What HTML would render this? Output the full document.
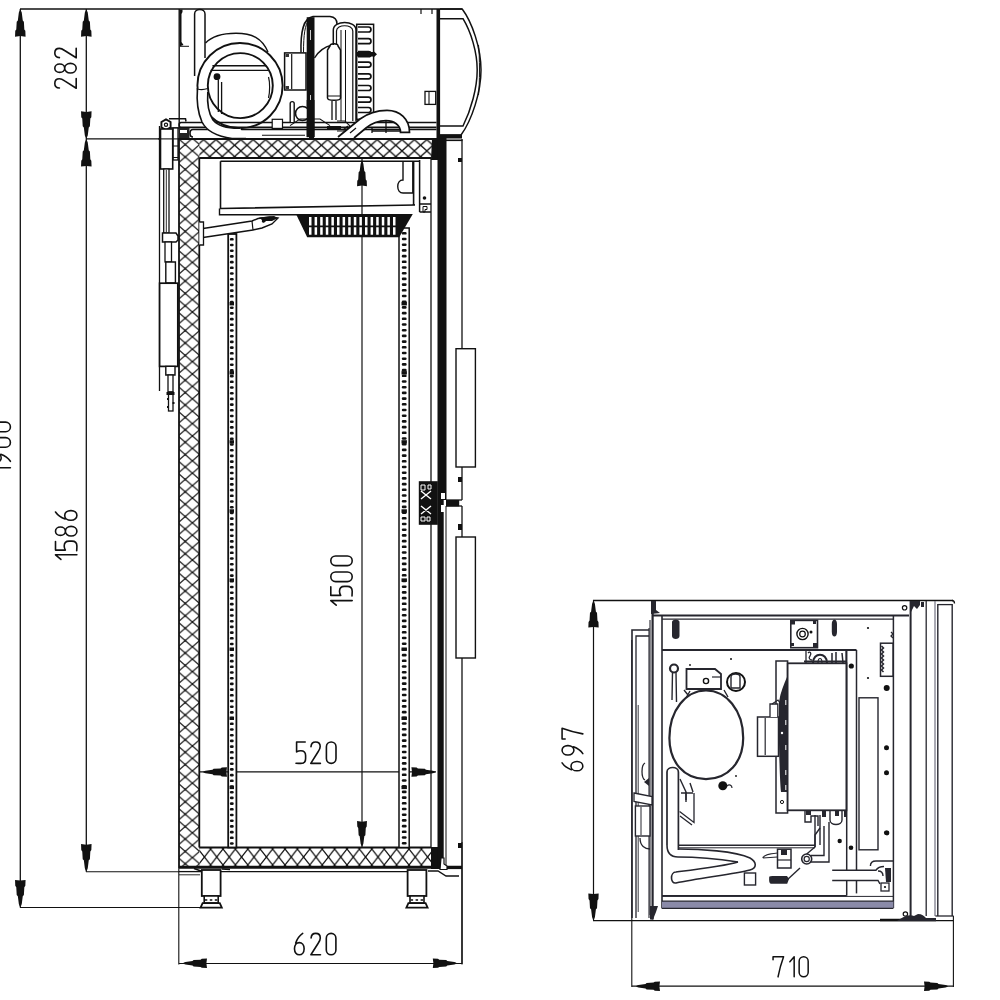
<!DOCTYPE html>
<html><head><meta charset="utf-8"><style>
html,body{margin:0;padding:0;background:#fff;}
body{width:1000px;height:1000px;overflow:hidden;font-family:"Liberation Sans",sans-serif;}
svg{display:block;}
</style></head><body>
<svg width="1000" height="1000" viewBox="0 0 1000 1000">
<defs>
<pattern id="hv" patternUnits="userSpaceOnUse" x="178" y="2" width="14.4" height="12.4">
<path d="M0,0 L14.4,12.4 M14.4,0 L0,12.4" stroke="#111" stroke-width="1.25" fill="none"/>
<circle cx="7.2" cy="6.2" r="0.95" fill="#111"/><circle cx="0" cy="0" r="0.95" fill="#111"/><circle cx="14.4" cy="0" r="0.95" fill="#111"/><circle cx="0" cy="12.4" r="0.95" fill="#111"/><circle cx="14.4" cy="12.4" r="0.95" fill="#111"/>
</pattern>
<pattern id="hh" patternUnits="userSpaceOnUse" x="198.2" y="849" width="12.4" height="16">
<path d="M0,0 L12.4,16 M12.4,0 L0,16" stroke="#111" stroke-width="1.25" fill="none"/>
<circle cx="6.2" cy="8" r="0.95" fill="#111"/><circle cx="0" cy="0" r="0.95" fill="#111"/><circle cx="12.4" cy="0" r="0.95" fill="#111"/><circle cx="0" cy="16" r="0.95" fill="#111"/><circle cx="12.4" cy="16" r="0.95" fill="#111"/>
</pattern>
<pattern id="hht" patternUnits="userSpaceOnUse" x="203.6" y="139.6" width="12.4" height="11.3">
<path d="M0,0 L12.4,11.3 M12.4,0 L0,11.3" stroke="#111" stroke-width="1.25" fill="none"/>
<circle cx="6.2" cy="5.65" r="0.95" fill="#111"/><circle cx="0" cy="0" r="0.95" fill="#111"/><circle cx="12.4" cy="0" r="0.95" fill="#111"/><circle cx="0" cy="11.3" r="0.95" fill="#111"/><circle cx="12.4" cy="11.3" r="0.95" fill="#111"/>
</pattern>
</defs>
<rect width="1000" height="1000" fill="#fff"/>

<line x1="20" y1="9" x2="462" y2="9" stroke="#111" stroke-width="1.3" />
<line x1="20.3" y1="9" x2="20.3" y2="907.5" stroke="#111" stroke-width="1.3" />
<path transform="translate(20.3,9.8) rotate(0) scale(1.12)" d="M0,0 L0.7,1 L1.3,2.5 L2.2,9.5 L3.2,10.6 L3.6,17.5 L4.5,18.8 L4.7,24 L0,23.4 L-4.7,24 L-4.5,18.8 L-3.6,17.5 L-3.2,10.6 L-2.2,9.5 L-1.3,2.5 L-0.7,1 Z" fill="#111"/>
<path transform="translate(20.3,906.8) rotate(180) scale(1.12)" d="M0,0 L0.7,1 L1.3,2.5 L2.2,9.5 L3.2,10.6 L3.6,17.5 L4.5,18.8 L4.7,24 L0,23.4 L-4.7,24 L-4.5,18.8 L-3.6,17.5 L-3.2,10.6 L-2.2,9.5 L-1.3,2.5 L-0.7,1 Z" fill="#111"/>
<g transform="translate(-11.8,473.1) rotate(-90) scale(1.0)" fill="none" stroke="#111" stroke-width="1.6" stroke-linecap="round" stroke-linejoin="round"><path transform="translate(0.8,0.8)" d="M0,5.4 L4.6,0 V21.4"/><path transform="translate(10.4,0.8)" d="M1.4,21.4 C4.6,19.2 7,15.8 8.4,11.8 M9.6,6.2 C9.6,9.6 7.5,12.2 4.8,12.2 C2.1,12.2 0,9.6 0,6.2 V5.8 C0,2.5 2.1,0 4.8,0 C7.5,0 9.6,2.5 9.6,5.8 Z"/><path transform="translate(25.900000000000002,0.8)" d="M0,4.8 A4.8,4.8 0 0 1 9.6,4.8 V16.6 A4.8,4.8 0 0 1 0,16.6 Z"/><path transform="translate(41.4,0.8)" d="M0,4.8 A4.8,4.8 0 0 1 9.6,4.8 V16.6 A4.8,4.8 0 0 1 0,16.6 Z"/></g>
<line x1="86.3" y1="9" x2="86.3" y2="871.8" stroke="#111" stroke-width="1.3" />
<path transform="translate(86.3,9.8) rotate(0) scale(1.12)" d="M0,0 L0.7,1 L1.3,2.5 L2.2,9.5 L3.2,10.6 L3.6,17.5 L4.5,18.8 L4.7,24 L0,23.4 L-4.7,24 L-4.5,18.8 L-3.6,17.5 L-3.2,10.6 L-2.2,9.5 L-1.3,2.5 L-0.7,1 Z" fill="#111"/>
<path transform="translate(86.3,138.2) rotate(180) scale(1.12)" d="M0,0 L0.7,1 L1.3,2.5 L2.2,9.5 L3.2,10.6 L3.6,17.5 L4.5,18.8 L4.7,24 L0,23.4 L-4.7,24 L-4.5,18.8 L-3.6,17.5 L-3.2,10.6 L-2.2,9.5 L-1.3,2.5 L-0.7,1 Z" fill="#111"/>
<path transform="translate(86.3,139.7) rotate(0) scale(1.12)" d="M0,0 L0.7,1 L1.3,2.5 L2.2,9.5 L3.2,10.6 L3.6,17.5 L4.5,18.8 L4.7,24 L0,23.4 L-4.7,24 L-4.5,18.8 L-3.6,17.5 L-3.2,10.6 L-2.2,9.5 L-1.3,2.5 L-0.7,1 Z" fill="#111"/>
<path transform="translate(86.3,871) rotate(180) scale(1.12)" d="M0,0 L0.7,1 L1.3,2.5 L2.2,9.5 L3.2,10.6 L3.6,17.5 L4.5,18.8 L4.7,24 L0,23.4 L-4.7,24 L-4.5,18.8 L-3.6,17.5 L-3.2,10.6 L-2.2,9.5 L-1.3,2.5 L-0.7,1 Z" fill="#111"/>
<line x1="86" y1="138.9" x2="179" y2="138.9" stroke="#111" stroke-width="1.1" />
<line x1="86" y1="871.8" x2="179" y2="871.8" stroke="#111" stroke-width="1.1" />
<line x1="20" y1="907.5" x2="200" y2="907.5" stroke="#111" stroke-width="1.1" />
<g transform="translate(54,89) rotate(-90) scale(1.0)" fill="none" stroke="#111" stroke-width="1.6" stroke-linecap="round" stroke-linejoin="round"><path transform="translate(0.8,0.8)" d="M0.2,4.6 C0.4,1.7 2.3,0 4.8,0 C7.5,0 9.4,1.9 9.4,4.6 C9.4,6.6 8.5,8.1 7.3,9.8 L0,21.4 H9.6"/><path transform="translate(16.0,0.8)" d="M4.8,0 C2.5,0 0.6,1.9 0.6,4.9 C0.6,7.9 2.5,9.9 4.8,9.9 C7.1,9.9 9,7.9 9,4.9 C9,1.9 7.1,0 4.8,0 Z M4.8,9.9 C2.1,9.9 0,12.2 0,15.6 C0,19 2.1,21.4 4.8,21.4 C7.5,21.4 9.6,19 9.6,15.6 C9.6,12.2 7.5,9.9 4.8,9.9 Z"/><path transform="translate(31.2,0.8)" d="M0.2,4.6 C0.4,1.7 2.3,0 4.8,0 C7.5,0 9.4,1.9 9.4,4.6 C9.4,6.6 8.5,8.1 7.3,9.8 L0,21.4 H9.6"/></g>
<g transform="translate(54.7,560.2) rotate(-90) scale(1.0)" fill="none" stroke="#111" stroke-width="1.6" stroke-linecap="round" stroke-linejoin="round"><path transform="translate(0.8,0.8)" d="M0,5.4 L4.6,0 V21.4"/><path transform="translate(9.5,0.8)" d="M9.2,0 H0.6 V9.9 C1.8,9.1 3.2,8.7 4.8,8.7 C7.7,8.7 9.6,10.7 9.6,13.6 V16.4 C9.6,19.4 7.7,21.4 4.8,21.4 C3,21.4 1.4,21.3 0,21.2"/><path transform="translate(24.2,0.8)" d="M4.8,0 C2.5,0 0.6,1.9 0.6,4.9 C0.6,7.9 2.5,9.9 4.8,9.9 C7.1,9.9 9,7.9 9,4.9 C9,1.9 7.1,0 4.8,0 Z M4.8,9.9 C2.1,9.9 0,12.2 0,15.6 C0,19 2.1,21.4 4.8,21.4 C7.5,21.4 9.6,19 9.6,15.6 C9.6,12.2 7.5,9.9 4.8,9.9 Z"/><path transform="translate(40.0,0.8)" d="M8.2,0 C5,2.2 2.6,5.6 1.2,9.6 M0,15.2 C0,11.8 2.1,9.2 4.8,9.2 C7.5,9.2 9.6,11.8 9.6,15.2 V15.6 C9.6,18.9 7.5,21.4 4.8,21.4 C2.1,21.4 0,18.9 0,15.6 Z"/></g>
<line x1="178.8" y1="868" x2="178.8" y2="964.5" stroke="#111" stroke-width="1.1" />
<line x1="462" y1="842" x2="462" y2="964.5" stroke="#111" stroke-width="1.1" />
<line x1="179" y1="963.5" x2="462" y2="963.5" stroke="#111" stroke-width="1.2" />
<path transform="translate(183,963.3) rotate(-90) scale(1.0)" d="M0,0 L0.7,1 L1.3,2.5 L2.2,9.5 L3.2,10.6 L3.6,17.5 L4.5,18.8 L4.7,24 L0,23.4 L-4.7,24 L-4.5,18.8 L-3.6,17.5 L-3.2,10.6 L-2.2,9.5 L-1.3,2.5 L-0.7,1 Z" fill="#111"/>
<path transform="translate(456.8,963.3) rotate(90) scale(1.0)" d="M0,0 L0.7,1 L1.3,2.5 L2.2,9.5 L3.2,10.6 L3.6,17.5 L4.5,18.8 L4.7,24 L0,23.4 L-4.7,24 L-4.5,18.8 L-3.6,17.5 L-3.2,10.6 L-2.2,9.5 L-1.3,2.5 L-0.7,1 Z" fill="#111"/>
<g transform="translate(293.7,932.6) scale(1.0)" fill="none" stroke="#111" stroke-width="1.6" stroke-linecap="round" stroke-linejoin="round"><path transform="translate(0.8,0.8)" d="M8.2,0 C5,2.2 2.6,5.6 1.2,9.6 M0,15.2 C0,11.8 2.1,9.2 4.8,9.2 C7.5,9.2 9.6,11.8 9.6,15.2 V15.6 C9.6,18.9 7.5,21.4 4.8,21.4 C2.1,21.4 0,18.9 0,15.6 Z"/><path transform="translate(17.2,0.8)" d="M0.2,4.6 C0.4,1.7 2.3,0 4.8,0 C7.5,0 9.4,1.9 9.4,4.6 C9.4,6.6 8.5,8.1 7.3,9.8 L0,21.4 H9.6"/><path transform="translate(32.6,0.8)" d="M0,4.8 A4.8,4.8 0 0 1 9.6,4.8 V16.6 A4.8,4.8 0 0 1 0,16.6 Z"/></g>
<line x1="200" y1="771.8" x2="436" y2="771.8" stroke="#111" stroke-width="1.2" />
<path transform="translate(203,772) rotate(-90) scale(1.0)" d="M0,0 L0.7,1 L1.3,2.5 L2.2,9.5 L3.2,10.6 L3.6,17.5 L4.5,18.8 L4.7,24 L0,23.4 L-4.7,24 L-4.5,18.8 L-3.6,17.5 L-3.2,10.6 L-2.2,9.5 L-1.3,2.5 L-0.7,1 Z" fill="#111"/>
<path transform="translate(435.4,772) rotate(90) scale(1.0)" d="M0,0 L0.7,1 L1.3,2.5 L2.2,9.5 L3.2,10.6 L3.6,17.5 L4.5,18.8 L4.7,24 L0,23.4 L-4.7,24 L-4.5,18.8 L-3.6,17.5 L-3.2,10.6 L-2.2,9.5 L-1.3,2.5 L-0.7,1 Z" fill="#111"/>
<g transform="translate(295.2,741.2) scale(1.0)" fill="none" stroke="#111" stroke-width="1.6" stroke-linecap="round" stroke-linejoin="round"><path transform="translate(0.8,0.8)" d="M9.2,0 H0.6 V9.9 C1.8,9.1 3.2,8.7 4.8,8.7 C7.7,8.7 9.6,10.7 9.6,13.6 V16.4 C9.6,19.4 7.7,21.4 4.8,21.4 C3,21.4 1.4,21.3 0,21.2"/><path transform="translate(15.600000000000001,0.8)" d="M0.2,4.6 C0.4,1.7 2.3,0 4.8,0 C7.5,0 9.4,1.9 9.4,4.6 C9.4,6.6 8.5,8.1 7.3,9.8 L0,21.4 H9.6"/><path transform="translate(31.2,0.8)" d="M0,4.8 A4.8,4.8 0 0 1 9.6,4.8 V16.6 A4.8,4.8 0 0 1 0,16.6 Z"/></g>
<line x1="362" y1="159" x2="362" y2="847" stroke="#111" stroke-width="1.2" />
<path transform="translate(362,161) rotate(0) scale(1.05)" d="M0,0 L0.7,1 L1.3,2.5 L2.2,9.5 L3.2,10.6 L3.6,17.5 L4.5,18.8 L4.7,24 L0,23.4 L-4.7,24 L-4.5,18.8 L-3.6,17.5 L-3.2,10.6 L-2.2,9.5 L-1.3,2.5 L-0.7,1 Z" fill="#111"/>
<path transform="translate(362,846.3) rotate(180) scale(1.05)" d="M0,0 L0.7,1 L1.3,2.5 L2.2,9.5 L3.2,10.6 L3.6,17.5 L4.5,18.8 L4.7,24 L0,23.4 L-4.7,24 L-4.5,18.8 L-3.6,17.5 L-3.2,10.6 L-2.2,9.5 L-1.3,2.5 L-0.7,1 Z" fill="#111"/>
<g transform="translate(330,606) rotate(-90) scale(1.0)" fill="none" stroke="#111" stroke-width="1.6" stroke-linecap="round" stroke-linejoin="round"><path transform="translate(0.8,0.8)" d="M0,5.4 L4.6,0 V21.4"/><path transform="translate(10.0,0.8)" d="M9.2,0 H0.6 V9.9 C1.8,9.1 3.2,8.7 4.8,8.7 C7.7,8.7 9.6,10.7 9.6,13.6 V16.4 C9.6,19.4 7.7,21.4 4.8,21.4 C3,21.4 1.4,21.3 0,21.2"/><path transform="translate(24.400000000000002,0.8)" d="M0,4.8 A4.8,4.8 0 0 1 9.6,4.8 V16.6 A4.8,4.8 0 0 1 0,16.6 Z"/><path transform="translate(40.4,0.8)" d="M0,4.8 A4.8,4.8 0 0 1 9.6,4.8 V16.6 A4.8,4.8 0 0 1 0,16.6 Z"/></g>
<rect x="179" y="139" width="20.3" height="728" fill="url(#hv)"/>
<rect x="199.3" y="139.5" width="233" height="18.5" fill="url(#hht)"/>
<rect x="199.3" y="847.5" width="233" height="19" fill="url(#hh)"/>
<line x1="179" y1="138" x2="179" y2="868" stroke="#111" stroke-width="1.8" />
<line x1="199.3" y1="158" x2="199.3" y2="847.5" stroke="#111" stroke-width="1.8" />
<line x1="179" y1="139" x2="438" y2="139" stroke="#111" stroke-width="1.8" />
<line x1="199.3" y1="158" x2="431" y2="158" stroke="#111" stroke-width="1.8" />
<line x1="199.3" y1="847.5" x2="431" y2="847.5" stroke="#111" stroke-width="1.8" />
<line x1="179" y1="867.2" x2="462" y2="867.2" stroke="#111" stroke-width="3" />
<path d="M432,139 L438,139 L438,160 L431,160 Z" stroke="#111" stroke-width="0" fill="#111" />
<path d="M431,847 L441,847 L441,869 L431,869 Z" stroke="#111" stroke-width="0" fill="#111" />
<line x1="431" y1="158" x2="431" y2="847.5" stroke="#111" stroke-width="1.3" />
<rect x="436.5" y="9" width="3.6" height="130" fill="#111"/>
<rect x="437.5" y="137" width="9" height="363" fill="#111"/>
<rect x="437.5" y="500" width="6.2" height="369" fill="#111"/>
<line x1="446" y1="506" x2="446" y2="866" stroke="#222" stroke-width="1.1" />
<line x1="462" y1="139" x2="462" y2="348.7" stroke="#111" stroke-width="1.3" />
<line x1="462" y1="467" x2="462" y2="500" stroke="#111" stroke-width="1.3" />
<line x1="446" y1="500" x2="462" y2="500" stroke="#111" stroke-width="1.3" />
<line x1="446" y1="506" x2="462" y2="506" stroke="#111" stroke-width="1.3" />
<line x1="462" y1="506" x2="462" y2="537" stroke="#111" stroke-width="1.3" />
<line x1="462" y1="658" x2="462" y2="964" stroke="#111" stroke-width="1.3" />
<line x1="446" y1="140.3" x2="462.5" y2="140.3" stroke="#111" stroke-width="1.6" />
<rect x="456" y="348.7" width="19.4" height="118.3" stroke="#111" stroke-width="1.4" fill="#fff" />
<rect x="456" y="537" width="19.4" height="121" stroke="#111" stroke-width="1.4" fill="#fff" />
<line x1="446" y1="867.6" x2="462" y2="867.6" stroke="#111" stroke-width="3" />
<rect x="418.8" y="481.2" width="19" height="43.6" stroke="#111" stroke-width="0" fill="#111" />
<path d="M421,491 L431,499 M431,491 L421,499 M421,506 L431,514 M431,506 L421,514" stroke="#fff" stroke-width="1.4" fill="none" />
<path d="M421,485 h4 v5 h-4 Z M428,485 h3 v4 h-3 Z M421,517 h4 v4 h-4 Z M427,517 h3 v4 h-3 Z" stroke="#fff" stroke-width="1.0" fill="none" />
<path d="M441,493 h4 v6 h-4 Z M441,505 h4 v7 h-4 Z" stroke="#111" stroke-width="0" fill="#fff" />
<rect x="446" y="500" width="13.2" height="6.4" stroke="#111" stroke-width="0" fill="#111" />
<path d="M458,477 h4 v5 h-4 Z M458,524 h4 v6 h-4 Z M458,158 h4 v4 h-4 Z" stroke="#111" stroke-width="0" fill="#111" />
<rect x="228.2" y="234" width="8.200000000000017" height="613.5" stroke="#111" stroke-width="1.8" fill="#fff" />
<g fill="#111"><rect x="229.9" y="238.0" width="3.8" height="2.6" rx="1.2" /><rect x="229.9" y="243.7" width="3.8" height="2.6" rx="1.2" /><rect x="229.9" y="249.4" width="3.8" height="2.6" rx="1.2" /><rect x="229.9" y="255.1" width="3.8" height="2.6" rx="1.2" /><rect x="229.9" y="260.8" width="3.8" height="2.6" rx="1.2" /><rect x="229.9" y="266.5" width="3.8" height="2.6" rx="1.2" /><rect x="229.9" y="272.2" width="3.8" height="2.6" rx="1.2" /><rect x="229.9" y="277.9" width="3.8" height="2.6" rx="1.2" /><rect x="229.9" y="283.6" width="3.8" height="2.6" rx="1.2" /><rect x="229.9" y="289.3" width="3.8" height="2.6" rx="1.2" /><rect x="229.9" y="295.0" width="3.8" height="2.6" rx="1.2" /><rect x="229.9" y="300.7" width="3.8" height="2.6" rx="1.2" /><rect x="229.9" y="306.4" width="3.8" height="2.6" rx="1.2" /><rect x="229.9" y="312.1" width="3.8" height="2.6" rx="1.2" /><rect x="229.9" y="317.8" width="3.8" height="2.6" rx="1.2" /><rect x="229.9" y="323.5" width="3.8" height="2.6" rx="1.2" /><rect x="229.9" y="329.2" width="3.8" height="2.6" rx="1.2" /><rect x="229.9" y="334.9" width="3.8" height="2.6" rx="1.2" /><rect x="229.9" y="340.6" width="3.8" height="2.6" rx="1.2" /><rect x="229.9" y="346.3" width="3.8" height="2.6" rx="1.2" /><rect x="229.9" y="352.0" width="3.8" height="2.6" rx="1.2" /><rect x="229.9" y="357.7" width="3.8" height="2.6" rx="1.2" /><rect x="229.9" y="363.4" width="3.8" height="2.6" rx="1.2" /><rect x="229.9" y="369.1" width="3.8" height="2.6" rx="1.2" /><rect x="229.9" y="374.8" width="3.8" height="2.6" rx="1.2" /><rect x="229.9" y="380.5" width="3.8" height="2.6" rx="1.2" /><rect x="229.9" y="386.2" width="3.8" height="2.6" rx="1.2" /><rect x="229.9" y="391.9" width="3.8" height="2.6" rx="1.2" /><rect x="229.9" y="397.6" width="3.8" height="2.6" rx="1.2" /><rect x="229.9" y="403.3" width="3.8" height="2.6" rx="1.2" /><rect x="229.9" y="409.0" width="3.8" height="2.6" rx="1.2" /><rect x="229.9" y="414.7" width="3.8" height="2.6" rx="1.2" /><rect x="229.9" y="420.4" width="3.8" height="2.6" rx="1.2" /><rect x="229.9" y="426.1" width="3.8" height="2.6" rx="1.2" /><rect x="229.9" y="431.8" width="3.8" height="2.6" rx="1.2" /><rect x="229.9" y="437.5" width="3.8" height="2.6" rx="1.2" /><rect x="229.9" y="443.2" width="3.8" height="2.6" rx="1.2" /><rect x="229.9" y="448.9" width="3.8" height="2.6" rx="1.2" /><rect x="229.9" y="454.6" width="3.8" height="2.6" rx="1.2" /><rect x="229.9" y="460.3" width="3.8" height="2.6" rx="1.2" /><rect x="229.9" y="466.0" width="3.8" height="2.6" rx="1.2" /><rect x="229.9" y="471.7" width="3.8" height="2.6" rx="1.2" /><rect x="229.9" y="477.4" width="3.8" height="2.6" rx="1.2" /><rect x="229.9" y="483.1" width="3.8" height="2.6" rx="1.2" /><rect x="229.9" y="488.8" width="3.8" height="2.6" rx="1.2" /><rect x="229.9" y="494.5" width="3.8" height="2.6" rx="1.2" /><rect x="229.9" y="500.2" width="3.8" height="2.6" rx="1.2" /><rect x="229.9" y="505.9" width="3.8" height="2.6" rx="1.2" /><rect x="229.9" y="511.6" width="3.8" height="2.6" rx="1.2" /><rect x="229.9" y="517.3" width="3.8" height="2.6" rx="1.2" /><rect x="229.9" y="523.0" width="3.8" height="2.6" rx="1.2" /><rect x="229.9" y="528.7" width="3.8" height="2.6" rx="1.2" /><rect x="229.9" y="534.4" width="3.8" height="2.6" rx="1.2" /><rect x="229.9" y="540.1" width="3.8" height="2.6" rx="1.2" /><rect x="229.9" y="545.8" width="3.8" height="2.6" rx="1.2" /><rect x="229.9" y="551.5" width="3.8" height="2.6" rx="1.2" /><rect x="229.9" y="557.2" width="3.8" height="2.6" rx="1.2" /><rect x="229.9" y="562.9" width="3.8" height="2.6" rx="1.2" /><rect x="229.9" y="568.6" width="3.8" height="2.6" rx="1.2" /><rect x="229.9" y="574.3" width="3.8" height="2.6" rx="1.2" /><rect x="229.9" y="580.0" width="3.8" height="2.6" rx="1.2" /><rect x="229.9" y="585.7" width="3.8" height="2.6" rx="1.2" /><rect x="229.9" y="591.4" width="3.8" height="2.6" rx="1.2" /><rect x="229.9" y="597.1" width="3.8" height="2.6" rx="1.2" /><rect x="229.9" y="602.8" width="3.8" height="2.6" rx="1.2" /><rect x="229.9" y="608.5" width="3.8" height="2.6" rx="1.2" /><rect x="229.9" y="614.2" width="3.8" height="2.6" rx="1.2" /><rect x="229.9" y="619.9" width="3.8" height="2.6" rx="1.2" /><rect x="229.9" y="625.6" width="3.8" height="2.6" rx="1.2" /><rect x="229.9" y="631.3" width="3.8" height="2.6" rx="1.2" /><rect x="229.9" y="637.0" width="3.8" height="2.6" rx="1.2" /><rect x="229.9" y="642.7" width="3.8" height="2.6" rx="1.2" /><rect x="229.9" y="648.4" width="3.8" height="2.6" rx="1.2" /><rect x="229.9" y="654.1" width="3.8" height="2.6" rx="1.2" /><rect x="229.9" y="659.8" width="3.8" height="2.6" rx="1.2" /><rect x="229.9" y="665.5" width="3.8" height="2.6" rx="1.2" /><rect x="229.9" y="671.2" width="3.8" height="2.6" rx="1.2" /><rect x="229.9" y="676.9" width="3.8" height="2.6" rx="1.2" /><rect x="229.9" y="682.6" width="3.8" height="2.6" rx="1.2" /><rect x="229.9" y="688.3" width="3.8" height="2.6" rx="1.2" /><rect x="229.9" y="694.0" width="3.8" height="2.6" rx="1.2" /><rect x="229.9" y="699.7" width="3.8" height="2.6" rx="1.2" /><rect x="229.9" y="705.4" width="3.8" height="2.6" rx="1.2" /><rect x="229.9" y="711.1" width="3.8" height="2.6" rx="1.2" /><rect x="229.9" y="716.8" width="3.8" height="2.6" rx="1.2" /><rect x="229.9" y="722.5" width="3.8" height="2.6" rx="1.2" /><rect x="229.9" y="728.2" width="3.8" height="2.6" rx="1.2" /><rect x="229.9" y="733.9" width="3.8" height="2.6" rx="1.2" /><rect x="229.9" y="739.6" width="3.8" height="2.6" rx="1.2" /><rect x="229.9" y="745.3" width="3.8" height="2.6" rx="1.2" /><rect x="229.9" y="751.0" width="3.8" height="2.6" rx="1.2" /><rect x="229.9" y="756.7" width="3.8" height="2.6" rx="1.2" /><rect x="229.9" y="762.4" width="3.8" height="2.6" rx="1.2" /><rect x="229.9" y="768.1" width="3.8" height="2.6" rx="1.2" /><rect x="229.9" y="773.8" width="3.8" height="2.6" rx="1.2" /><rect x="229.9" y="779.5" width="3.8" height="2.6" rx="1.2" /><rect x="229.9" y="785.2" width="3.8" height="2.6" rx="1.2" /><rect x="229.9" y="790.9" width="3.8" height="2.6" rx="1.2" /><rect x="229.9" y="796.6" width="3.8" height="2.6" rx="1.2" /><rect x="229.9" y="802.3" width="3.8" height="2.6" rx="1.2" /><rect x="229.9" y="808.0" width="3.8" height="2.6" rx="1.2" /><rect x="229.9" y="813.7" width="3.8" height="2.6" rx="1.2" /><rect x="229.9" y="819.4" width="3.8" height="2.6" rx="1.2" /><rect x="229.9" y="825.1" width="3.8" height="2.6" rx="1.2" /><rect x="229.9" y="830.8" width="3.8" height="2.6" rx="1.2" /><rect x="229.9" y="836.5" width="3.8" height="2.6" rx="1.2" /><rect x="229.9" y="842.2" width="3.8" height="2.6" rx="1.2" /></g>
<rect x="229.6" y="302.0" width="4.399999999999983" height="3.4" stroke="#111" stroke-width="0" fill="#111" />
<rect x="229.6" y="371.1" width="4.399999999999983" height="3.4" stroke="#111" stroke-width="0" fill="#111" />
<rect x="229.6" y="440.2" width="4.399999999999983" height="3.4" stroke="#111" stroke-width="0" fill="#111" />
<rect x="229.6" y="509.29999999999995" width="4.399999999999983" height="3.4" stroke="#111" stroke-width="0" fill="#111" />
<rect x="229.6" y="578.4" width="4.399999999999983" height="3.4" stroke="#111" stroke-width="0" fill="#111" />
<rect x="229.6" y="647.5" width="4.399999999999983" height="3.4" stroke="#111" stroke-width="0" fill="#111" />
<rect x="229.6" y="716.5999999999999" width="4.399999999999983" height="3.4" stroke="#111" stroke-width="0" fill="#111" />
<rect x="229.6" y="785.6999999999999" width="4.399999999999983" height="3.4" stroke="#111" stroke-width="0" fill="#111" />
<rect x="399" y="228" width="10.199999999999989" height="619.5" stroke="#111" stroke-width="1.5" fill="#fff" />
<g fill="#111"><rect x="401.8" y="232.0" width="4.8" height="2.6" rx="1.2" /><rect x="401.8" y="237.7" width="4.8" height="2.6" rx="1.2" /><rect x="401.8" y="243.4" width="4.8" height="2.6" rx="1.2" /><rect x="401.8" y="249.1" width="4.8" height="2.6" rx="1.2" /><rect x="401.8" y="254.8" width="4.8" height="2.6" rx="1.2" /><rect x="401.8" y="260.5" width="4.8" height="2.6" rx="1.2" /><rect x="401.8" y="266.2" width="4.8" height="2.6" rx="1.2" /><rect x="401.8" y="271.9" width="4.8" height="2.6" rx="1.2" /><rect x="401.8" y="277.6" width="4.8" height="2.6" rx="1.2" /><rect x="401.8" y="283.3" width="4.8" height="2.6" rx="1.2" /><rect x="401.8" y="289.0" width="4.8" height="2.6" rx="1.2" /><rect x="401.8" y="294.7" width="4.8" height="2.6" rx="1.2" /><rect x="401.8" y="300.4" width="4.8" height="2.6" rx="1.2" /><rect x="401.8" y="306.1" width="4.8" height="2.6" rx="1.2" /><rect x="401.8" y="311.8" width="4.8" height="2.6" rx="1.2" /><rect x="401.8" y="317.5" width="4.8" height="2.6" rx="1.2" /><rect x="401.8" y="323.2" width="4.8" height="2.6" rx="1.2" /><rect x="401.8" y="328.9" width="4.8" height="2.6" rx="1.2" /><rect x="401.8" y="334.6" width="4.8" height="2.6" rx="1.2" /><rect x="401.8" y="340.3" width="4.8" height="2.6" rx="1.2" /><rect x="401.8" y="346.0" width="4.8" height="2.6" rx="1.2" /><rect x="401.8" y="351.7" width="4.8" height="2.6" rx="1.2" /><rect x="401.8" y="357.4" width="4.8" height="2.6" rx="1.2" /><rect x="401.8" y="363.1" width="4.8" height="2.6" rx="1.2" /><rect x="401.8" y="368.8" width="4.8" height="2.6" rx="1.2" /><rect x="401.8" y="374.5" width="4.8" height="2.6" rx="1.2" /><rect x="401.8" y="380.2" width="4.8" height="2.6" rx="1.2" /><rect x="401.8" y="385.9" width="4.8" height="2.6" rx="1.2" /><rect x="401.8" y="391.6" width="4.8" height="2.6" rx="1.2" /><rect x="401.8" y="397.3" width="4.8" height="2.6" rx="1.2" /><rect x="401.8" y="403.0" width="4.8" height="2.6" rx="1.2" /><rect x="401.8" y="408.7" width="4.8" height="2.6" rx="1.2" /><rect x="401.8" y="414.4" width="4.8" height="2.6" rx="1.2" /><rect x="401.8" y="420.1" width="4.8" height="2.6" rx="1.2" /><rect x="401.8" y="425.8" width="4.8" height="2.6" rx="1.2" /><rect x="401.8" y="431.5" width="4.8" height="2.6" rx="1.2" /><rect x="401.8" y="437.2" width="4.8" height="2.6" rx="1.2" /><rect x="401.8" y="442.9" width="4.8" height="2.6" rx="1.2" /><rect x="401.8" y="448.6" width="4.8" height="2.6" rx="1.2" /><rect x="401.8" y="454.3" width="4.8" height="2.6" rx="1.2" /><rect x="401.8" y="460.0" width="4.8" height="2.6" rx="1.2" /><rect x="401.8" y="465.7" width="4.8" height="2.6" rx="1.2" /><rect x="401.8" y="471.4" width="4.8" height="2.6" rx="1.2" /><rect x="401.8" y="477.1" width="4.8" height="2.6" rx="1.2" /><rect x="401.8" y="482.8" width="4.8" height="2.6" rx="1.2" /><rect x="401.8" y="488.5" width="4.8" height="2.6" rx="1.2" /><rect x="401.8" y="494.2" width="4.8" height="2.6" rx="1.2" /><rect x="401.8" y="499.9" width="4.8" height="2.6" rx="1.2" /><rect x="401.8" y="505.6" width="4.8" height="2.6" rx="1.2" /><rect x="401.8" y="511.3" width="4.8" height="2.6" rx="1.2" /><rect x="401.8" y="517.0" width="4.8" height="2.6" rx="1.2" /><rect x="401.8" y="522.7" width="4.8" height="2.6" rx="1.2" /><rect x="401.8" y="528.4" width="4.8" height="2.6" rx="1.2" /><rect x="401.8" y="534.1" width="4.8" height="2.6" rx="1.2" /><rect x="401.8" y="539.8" width="4.8" height="2.6" rx="1.2" /><rect x="401.8" y="545.5" width="4.8" height="2.6" rx="1.2" /><rect x="401.8" y="551.2" width="4.8" height="2.6" rx="1.2" /><rect x="401.8" y="556.9" width="4.8" height="2.6" rx="1.2" /><rect x="401.8" y="562.6" width="4.8" height="2.6" rx="1.2" /><rect x="401.8" y="568.3" width="4.8" height="2.6" rx="1.2" /><rect x="401.8" y="574.0" width="4.8" height="2.6" rx="1.2" /><rect x="401.8" y="579.7" width="4.8" height="2.6" rx="1.2" /><rect x="401.8" y="585.4" width="4.8" height="2.6" rx="1.2" /><rect x="401.8" y="591.1" width="4.8" height="2.6" rx="1.2" /><rect x="401.8" y="596.8" width="4.8" height="2.6" rx="1.2" /><rect x="401.8" y="602.5" width="4.8" height="2.6" rx="1.2" /><rect x="401.8" y="608.2" width="4.8" height="2.6" rx="1.2" /><rect x="401.8" y="613.9" width="4.8" height="2.6" rx="1.2" /><rect x="401.8" y="619.6" width="4.8" height="2.6" rx="1.2" /><rect x="401.8" y="625.3" width="4.8" height="2.6" rx="1.2" /><rect x="401.8" y="631.0" width="4.8" height="2.6" rx="1.2" /><rect x="401.8" y="636.7" width="4.8" height="2.6" rx="1.2" /><rect x="401.8" y="642.4" width="4.8" height="2.6" rx="1.2" /><rect x="401.8" y="648.1" width="4.8" height="2.6" rx="1.2" /><rect x="401.8" y="653.8" width="4.8" height="2.6" rx="1.2" /><rect x="401.8" y="659.5" width="4.8" height="2.6" rx="1.2" /><rect x="401.8" y="665.2" width="4.8" height="2.6" rx="1.2" /><rect x="401.8" y="670.9" width="4.8" height="2.6" rx="1.2" /><rect x="401.8" y="676.6" width="4.8" height="2.6" rx="1.2" /><rect x="401.8" y="682.3" width="4.8" height="2.6" rx="1.2" /><rect x="401.8" y="688.0" width="4.8" height="2.6" rx="1.2" /><rect x="401.8" y="693.7" width="4.8" height="2.6" rx="1.2" /><rect x="401.8" y="699.4" width="4.8" height="2.6" rx="1.2" /><rect x="401.8" y="705.1" width="4.8" height="2.6" rx="1.2" /><rect x="401.8" y="710.8" width="4.8" height="2.6" rx="1.2" /><rect x="401.8" y="716.5" width="4.8" height="2.6" rx="1.2" /><rect x="401.8" y="722.2" width="4.8" height="2.6" rx="1.2" /><rect x="401.8" y="727.9" width="4.8" height="2.6" rx="1.2" /><rect x="401.8" y="733.6" width="4.8" height="2.6" rx="1.2" /><rect x="401.8" y="739.3" width="4.8" height="2.6" rx="1.2" /><rect x="401.8" y="745.0" width="4.8" height="2.6" rx="1.2" /><rect x="401.8" y="750.7" width="4.8" height="2.6" rx="1.2" /><rect x="401.8" y="756.4" width="4.8" height="2.6" rx="1.2" /><rect x="401.8" y="762.1" width="4.8" height="2.6" rx="1.2" /><rect x="401.8" y="767.8" width="4.8" height="2.6" rx="1.2" /><rect x="401.8" y="773.5" width="4.8" height="2.6" rx="1.2" /><rect x="401.8" y="779.2" width="4.8" height="2.6" rx="1.2" /><rect x="401.8" y="784.9" width="4.8" height="2.6" rx="1.2" /><rect x="401.8" y="790.6" width="4.8" height="2.6" rx="1.2" /><rect x="401.8" y="796.3" width="4.8" height="2.6" rx="1.2" /><rect x="401.8" y="802.0" width="4.8" height="2.6" rx="1.2" /><rect x="401.8" y="807.7" width="4.8" height="2.6" rx="1.2" /><rect x="401.8" y="813.4" width="4.8" height="2.6" rx="1.2" /><rect x="401.8" y="819.1" width="4.8" height="2.6" rx="1.2" /><rect x="401.8" y="824.8" width="4.8" height="2.6" rx="1.2" /><rect x="401.8" y="830.5" width="4.8" height="2.6" rx="1.2" /><rect x="401.8" y="836.2" width="4.8" height="2.6" rx="1.2" /><rect x="401.8" y="841.9" width="4.8" height="2.6" rx="1.2" /></g>
<rect x="401.5" y="302.0" width="5.400000000000011" height="3.4" stroke="#111" stroke-width="0" fill="#111" />
<rect x="401.5" y="371.1" width="5.400000000000011" height="3.4" stroke="#111" stroke-width="0" fill="#111" />
<rect x="401.5" y="440.2" width="5.400000000000011" height="3.4" stroke="#111" stroke-width="0" fill="#111" />
<rect x="401.5" y="509.29999999999995" width="5.400000000000011" height="3.4" stroke="#111" stroke-width="0" fill="#111" />
<rect x="401.5" y="578.4" width="5.400000000000011" height="3.4" stroke="#111" stroke-width="0" fill="#111" />
<rect x="401.5" y="647.5" width="5.400000000000011" height="3.4" stroke="#111" stroke-width="0" fill="#111" />
<rect x="401.5" y="716.5999999999999" width="5.400000000000011" height="3.4" stroke="#111" stroke-width="0" fill="#111" />
<rect x="401.5" y="785.6999999999999" width="5.400000000000011" height="3.4" stroke="#111" stroke-width="0" fill="#111" />
<path d="M219.5,208.5 L219.5,214.8 L300,214.8" stroke="#111" stroke-width="1.4" fill="none" />
<path d="M220.5,161.2 L419,161.2 M220.5,161.2 L220.5,208.5 L415,205 M413.6,161.2 L413.6,206" stroke="#111" stroke-width="1.6" fill="none" />
<path d="M403,161.5 L403,180 C396,180 396,193 403,193 L412.8,193 L412.8,161.5" stroke="#111" stroke-width="1.4" fill="none" />
<path d="M419.6,160 L419.6,212 M419.6,204 L431,204 M419.6,212 L431,212" stroke="#111" stroke-width="1.5" fill="none" />
<path d="M423,206.5 h4 v3 h-2 v2.5 h-2 Z" stroke="#111" stroke-width="1.0" fill="none" />
<circle cx="424.5" cy="198" r="1.8" fill="#111"/>
<path d="M296,214 L412.8,214 L399.2,237.2 L307.2,237.2 Z" stroke="#111" stroke-width="0" fill="#111" />
<path d="M309.0,217 h2.5 v8.5 h-2.5 Z M309.0,227.3 h2.5 v7.5 h-2.5 Z M314.6,217 h2.5 v8.5 h-2.5 Z M314.6,227.3 h2.5 v7.5 h-2.5 Z M320.2,217 h2.5 v8.5 h-2.5 Z M320.2,227.3 h2.5 v7.5 h-2.5 Z M325.8,217 h2.5 v8.5 h-2.5 Z M325.8,227.3 h2.5 v7.5 h-2.5 Z M331.4,217 h2.5 v8.5 h-2.5 Z M331.4,227.3 h2.5 v7.5 h-2.5 Z M337.0,217 h2.5 v8.5 h-2.5 Z M337.0,227.3 h2.5 v7.5 h-2.5 Z M342.6,217 h2.5 v8.5 h-2.5 Z M342.6,227.3 h2.5 v7.5 h-2.5 Z M348.2,217 h2.5 v8.5 h-2.5 Z M348.2,227.3 h2.5 v7.5 h-2.5 Z M353.8,217 h2.5 v8.5 h-2.5 Z M353.8,227.3 h2.5 v7.5 h-2.5 Z M359.4,217 h2.5 v8.5 h-2.5 Z M359.4,227.3 h2.5 v7.5 h-2.5 Z M365.0,217 h2.5 v8.5 h-2.5 Z M365.0,227.3 h2.5 v7.5 h-2.5 Z M370.6,217 h2.5 v8.5 h-2.5 Z M370.6,227.3 h2.5 v7.5 h-2.5 Z M376.2,217 h2.5 v8.5 h-2.5 Z M376.2,227.3 h2.5 v7.5 h-2.5 Z M381.8,217 h2.5 v8.5 h-2.5 Z M381.8,227.3 h2.5 v7.5 h-2.5 Z M387.4,217 h2.5 v8.5 h-2.5 Z M387.4,227.3 h2.5 v7.5 h-2.5 Z M393.0,217 h2.5 v8.5 h-2.5 Z M393.0,227.3 h2.5 v7.5 h-2.5 Z " fill="#fff"/>
<path d="M203,228.5 L252,221 L258,218.5 L270,217 L278,218 L272,224 L262,228 L253,230 L203,237.5" stroke="#111" stroke-width="1.4" fill="#fff" />
<path d="M252,221 L253,230" stroke="#111" stroke-width="1.2" fill="none" />
<path d="M259,217.5 L274,216 L278,218 L272,221 L266,221 C264,224 261,223 262,220 Z" stroke="#111" stroke-width="0" fill="#111" />
<path d="M199.3,222 L203.5,222 L203.5,245 L199.3,245" stroke="#111" stroke-width="1.3" fill="#fff" />
<line x1="179.2" y1="9" x2="179.2" y2="139" stroke="#111" stroke-width="1.4" />
<path d="M179.5,9.5 L182.5,9.5 L182.5,12 L181.5,14 L181.5,42 L183.5,45 L180,46.3 Z" stroke="#111" stroke-width="0" fill="#111" />
<line x1="180" y1="46.3" x2="189" y2="46.3" stroke="#111" stroke-width="1.0" />
<path d="M440,9 L462.2,9 C472,22 481,48 481,70 C481,92 472,120 461,135 L440,135" stroke="#111" stroke-width="1.5" fill="none" />
<path d="M440,18.7 L463,18.7 C471,32 477.2,52 477.2,70 C477.2,88 471,110 463,126 L440,126" stroke="#111" stroke-width="1.5" fill="none" />
<path d="M478.5,45 C479.8,55 479.8,85 478.5,95" stroke="#111" stroke-width="1.0" fill="none" />
<rect x="440" y="134.5" width="22" height="4" fill="#111"/>
<rect x="425" y="91.4" width="10.7" height="13" stroke="#111" stroke-width="1.3" fill="#fff" />
<line x1="429" y1="92" x2="429" y2="104" stroke="#111" stroke-width="1.1" />
<line x1="421" y1="9" x2="421" y2="14" stroke="#111" stroke-width="1.2" />
<line x1="432" y1="9" x2="432" y2="14" stroke="#111" stroke-width="1.2" />
<path d="M181,122.5 L436.5,122.5 M181,127.4 L436.5,127.4 M181,122.5 C178.5,122.5 178.5,127.4 181,127.4" stroke="#111" stroke-width="1.6" fill="none" />
<path d="M193,129.5 L436.5,129.5 M193,129.5 C189,129.5 189,137 193,137" stroke="#111" stroke-width="1.6" fill="none" />
<line x1="262" y1="135.3" x2="305" y2="135.3" stroke="#111" stroke-width="1.1" />
<path d="M179,128 L189.5,128 L189.5,138 L179,138 Z" stroke="#111" stroke-width="0" fill="#222" />
<path d="M180,130 h7 v3 h-7 Z" stroke="#111" stroke-width="0" fill="#fff" />
<path d="M194.6,76 L194.6,14 C194.6,8 205,8 205,14 L205,58" stroke="#111" stroke-width="1.5" fill="none" />
<circle cx="240" cy="85.6" r="42.6" fill="none" stroke="#111" stroke-width="1.9"/>
<circle cx="240.3" cy="85.6" r="32.5" fill="none" stroke="#111" stroke-width="1.9"/>
<path d="M205.5,43 C212,36 222,33.2 236,33.2 C252,33.2 262,38 268,52" stroke="#111" stroke-width="1.4" fill="none" />
<path d="M197.5,88 C196.5,100 197.5,112 202,122 C206,130 214,136 232,138.5 L246,138.5 L240,128.3 C226,128.5 218,126 213,120 C208.5,113 207,103 207.8,92 Z" stroke="#111" stroke-width="0" fill="#fff" />
<path d="M197.5,88 C196.5,100 197.5,112 202,122 C206,130 214,136 232,138.5 L246,138.5 M240,128.3 C226,128.5 218,126 213,120 C208.5,113 207,103 207.8,92" stroke="#111" stroke-width="1.6" fill="none" />
<path d="M197.5,89 C200,89.8 204,89.8 207.8,88.5" stroke="#111" stroke-width="1.3" fill="none" />
<path d="M212.4,65.8 L266.4,65.8 M210.5,70.4 L268,70.4" stroke="#111" stroke-width="1.4" fill="none" />
<circle cx="217" cy="76.7" r="3.4" fill="#111"/>
<path d="M218.3,80 L218.3,112 M221.6,82 L221.6,114" stroke="#111" stroke-width="1.3" fill="none" />
<path d="M268.5,77 C270,82 270,92 268.5,98" stroke="#111" stroke-width="1.2" fill="none" />
<rect x="272.2" y="119.3" width="10.3" height="9.1" stroke="#111" stroke-width="1.2" fill="#fff" />
<rect x="284.6" y="52.9" width="21.4" height="37.1" stroke="#111" stroke-width="1.5" fill="#fff" />
<line x1="291.7" y1="54" x2="291.7" y2="89" stroke="#111" stroke-width="1.2" />
<path d="M285.5,54 L289,54 L289,57 L285.5,57 Z M285.5,86 L289,86 L289,89 L285.5,89 Z" stroke="#111" stroke-width="0" fill="#333" />
<path d="M301,52.5 C300.5,32 303,18 313,16.5 L330,16.5 C335,17 337,20 337,24" stroke="#111" stroke-width="1.5" fill="none" />
<path d="M303.5,52.5 C303.5,35 305,24 309,20" stroke="#111" stroke-width="1.0" fill="none" />
<path d="M314.5,58 C318,52 324,47 332,45" stroke="#111" stroke-width="1.4" fill="none" />
<rect x="306.7" y="17.2" width="7.8" height="120" fill="#111"/>
<line x1="310.5" y1="30" x2="310.5" y2="40" stroke="#fff" stroke-width="0.8" />
<line x1="310.5" y1="95" x2="310.5" y2="105" stroke="#fff" stroke-width="0.8" />
<circle cx="302.5" cy="113.5" r="7" fill="#fff" stroke="#111" stroke-width="1.6"/>
<path d="M290.2,122 L290.2,103.5 C290.2,101 294.2,101 294.2,103.5 L294.2,122" stroke="#111" stroke-width="1.4" fill="#fff" />
<rect x="306.7" y="100" width="7.8" height="37" fill="#111"/>
<path d="M330,46 C330,43 338,43 338,46 L340.5,50 L340.5,98 C340.5,101 327.5,101 327.5,98 L327.5,50 Z" stroke="#111" stroke-width="1.5" fill="#fff" />
<line x1="327.5" y1="96" x2="340.5" y2="96" stroke="#111" stroke-width="1.0" />
<path d="M332,101 L332,120 M336,101 L336,120" stroke="#111" stroke-width="1.3" fill="none" />
<path d="M333.3,45 L333.3,30 C333.3,20 356,20 356,30 L356,121" stroke="#111" stroke-width="1.5" fill="none" />
<path d="M336.5,44 L336.5,31 C336.5,24 352.8,24 352.8,31 L352.8,121" stroke="#111" stroke-width="1.2" fill="none" />
<path d="M341,30 L341,121 M345.5,30 L345.5,121" stroke="#111" stroke-width="1.0" fill="none" />
<rect x="356.7" y="24.3" width="16.9" height="95" stroke="#111" stroke-width="1.5" fill="#fff" />
<path d="M358,27.0 L368.5,27.0 C371.8,27.0 371.8,32.0 368.5,32.0 L358,32.0 M358,38.7 L368.5,38.7 C371.8,38.7 371.8,43.7 368.5,43.7 L358,43.7 M358,51.7 L368.5,51.7 C371.8,51.7 371.8,56.7 368.5,56.7 L358,56.7 M358,62.099999999999994 L368.5,62.099999999999994 C371.8,62.099999999999994 371.8,67.1 368.5,67.1 L358,67.1 M358,73.8 L368.5,73.8 C371.8,73.8 371.8,78.8 368.5,78.8 L358,78.8 M358,85.5 L368.5,85.5 C371.8,85.5 371.8,90.5 368.5,90.5 L358,90.5 M358,97.2 L368.5,97.2 C371.8,97.2 371.8,102.2 368.5,102.2 L358,102.2 M358,107.5 L368.5,107.5 C371.8,107.5 371.8,112.5 368.5,112.5 L358,112.5 " stroke="#111" stroke-width="1.7" fill="none" />
<path d="M357,52 L373,52 L373,56.5 L357,56.5 Z M373,50.5 L377,54.2 L373,58 Z" stroke="#111" stroke-width="0" fill="#111" />
<path d="M372,127 L372,133 M386,121 L386,133 M372,131 L400,131" stroke="#111" stroke-width="1.3" fill="none" />
<path d="M338,137 L360,119 C368,113 376,110.3 387,110.3 C400,110.3 409.5,119 409.5,132.3 L400.5,132.3 C400.5,125 394,120.6 386,120.6 C378,120.6 372,123 366,128 L354,138" stroke="#111" stroke-width="1.7" fill="#fff" />
<path d="M343,130 L348,126 M350,133 L356,128" stroke="#111" stroke-width="1.2" fill="none" />
<path d="M290,125.6 L300,119 L320,119 L330,125.6" stroke="#111" stroke-width="1.1" fill="none" />
<path d="M337,121 L345,121 L350,126 L345,131 L337,131" stroke="#111" stroke-width="1.1" fill="none" />
<rect x="309" y="118" width="5" height="21" fill="#111"/>
<rect x="327" y="126" width="14" height="4" fill="#111"/>
<line x1="159.5" y1="126" x2="159.5" y2="391" stroke="#111" stroke-width="1.3" />
<path d="M169,118.8 L185.5,118.8 L186,121.5 M166,128 L179,128" stroke="#111" stroke-width="1.5" fill="none" />
<path d="M166,119.4 L170.6,122 L170.6,127.4 L166,130 L161.4,127.4 L161.4,122 Z" fill="#fff" stroke="#111" stroke-width="1.9"/>
<circle cx="166" cy="124.7" r="1.6" fill="none" stroke="#111" stroke-width="1.2"/>
<rect x="173" y="128" width="5" height="32" stroke="#111" stroke-width="1.3" fill="#fff" />
<path d="M173,146 h5 M173,157.5 h5" stroke="#111" stroke-width="1.2" fill="none" />
<rect x="160.5" y="129" width="12.2" height="40" stroke="#111" stroke-width="1.6" fill="#fff" />
<rect x="163.7" y="169" width="5.3" height="64" stroke="#111" stroke-width="1.3" fill="#fff" />
<line x1="166.3" y1="170" x2="166.3" y2="232" stroke="#111" stroke-width="0.9" />
<path d="M162.5,233 L176,233 L178,236 L178,240 L176,242 L162.5,242 Z" stroke="#111" stroke-width="1.5" fill="#fff" />
<rect x="165" y="242" width="6.5" height="20" stroke="#111" stroke-width="1.3" fill="#fff" />
<path d="M165.8,262 L175.4,262 L175.4,283 L165.8,283 Z" stroke="#111" stroke-width="1.4" fill="#fff" />
<rect x="159.6" y="283.2" width="18.2" height="83.2" stroke="#111" stroke-width="1.7" fill="#fff" />
<path d="M165.8,366.4 L175,366.4 L175,375 L165.8,375 Z" stroke="#111" stroke-width="1.4" fill="#fff" />
<rect x="168" y="375" width="5" height="17" stroke="#111" stroke-width="1.3" fill="#fff" />
<rect x="168.5" y="392" width="4.5" height="19" stroke="#111" stroke-width="1.3" fill="#fff" />
<path d="M166.5,392 h8 v3 h-8 Z M167,398 h2 v2 h-2 Z M172.5,402 h2 v2 h-2 Z M167,406 h2 v2 h-2 Z" stroke="#111" stroke-width="0" fill="#111" />
<line x1="177.5" y1="366" x2="179" y2="366" stroke="#111" stroke-width="1.2" />
<line x1="158" y1="138.9" x2="179" y2="138.9" stroke="#111" stroke-width="1.1" />
<rect x="201.8" y="870" width="18.799999999999983" height="26" stroke="#111" stroke-width="1.8" fill="#fff" />
<path d="M204.20000000000002,896 L218.2,896 L218.2,903 L204.20000000000002,903 Z" stroke="#111" stroke-width="1.6" fill="#fff" />
<path d="M204.8,900 h2.5 M209.8,900 h2.5 M214.8,900 h2.5" stroke="#111" stroke-width="1.5" fill="none" />
<path d="M202.60000000000002,903.2 L219.79999999999998,903.2 L221.79999999999998,907.6 L200.60000000000002,907.6 Z" stroke="#111" stroke-width="1.8" fill="#fff" />
<rect x="407.6" y="870" width="18.799999999999955" height="26" stroke="#111" stroke-width="1.8" fill="#fff" />
<path d="M410.0,896 L424.0,896 L424.0,903 L410.0,903 Z" stroke="#111" stroke-width="1.6" fill="#fff" />
<path d="M410.6,900 h2.5 M415.6,900 h2.5 M420.6,900 h2.5" stroke="#111" stroke-width="1.5" fill="none" />
<path d="M408.40000000000003,903.2 L425.59999999999997,903.2 L427.59999999999997,907.6 L406.40000000000003,907.6 Z" stroke="#111" stroke-width="1.8" fill="#fff" />
<line x1="179" y1="871.6" x2="201.8" y2="871.6" stroke="#111" stroke-width="1.3" />
<line x1="220.6" y1="871.6" x2="407.6" y2="871.6" stroke="#111" stroke-width="1.3" />
<line x1="179" y1="874.8" x2="200" y2="874.8" stroke="#111" stroke-width="0.9" />
<path d="M194,868.5 L201,871 M222,869 L230,869.5" stroke="#111" stroke-width="1.5" fill="none" />
<path d="M428,871 L438,871 L446,876 L459,876" stroke="#111" stroke-width="1.4" fill="none" />
<path d="M441,858 L444,858 L444,864 L447,866 L447,869.5 L440,869.5 Z" stroke="#111" stroke-width="1.2" fill="#fff" />
<path d="M458,843 L462,843 L462,848 L458,848 Z" stroke="#111" stroke-width="0" fill="#111" />
<line x1="593.5" y1="600.5" x2="593.5" y2="920.3" stroke="#111" stroke-width="1.2" />
<path transform="translate(593.5,601.2) rotate(0) scale(1.1)" d="M0,0 L0.7,1 L1.3,2.5 L2.2,9.5 L3.2,10.6 L3.6,17.5 L4.5,18.8 L4.7,24 L0,23.4 L-4.7,24 L-4.5,18.8 L-3.6,17.5 L-3.2,10.6 L-2.2,9.5 L-1.3,2.5 L-0.7,1 Z" fill="#111"/>
<path transform="translate(593.5,919.8) rotate(180) scale(1.1)" d="M0,0 L0.7,1 L1.3,2.5 L2.2,9.5 L3.2,10.6 L3.6,17.5 L4.5,18.8 L4.7,24 L0,23.4 L-4.7,24 L-4.5,18.8 L-3.6,17.5 L-3.2,10.6 L-2.2,9.5 L-1.3,2.5 L-0.7,1 Z" fill="#111"/>
<g transform="translate(561.3,771.6) rotate(-90) scale(0.97)" fill="none" stroke="#111" stroke-width="1.6" stroke-linecap="round" stroke-linejoin="round"><path transform="translate(0.8,0.8)" d="M8.2,0 C5,2.2 2.6,5.6 1.2,9.6 M0,15.2 C0,11.8 2.1,9.2 4.8,9.2 C7.5,9.2 9.6,11.8 9.6,15.2 V15.6 C9.6,18.9 7.5,21.4 4.8,21.4 C2.1,21.4 0,18.9 0,15.6 Z"/><path transform="translate(17.19175257731959,0.8)" d="M1.4,21.4 C4.6,19.2 7,15.8 8.4,11.8 M9.6,6.2 C9.6,9.6 7.5,12.2 4.8,12.2 C2.1,12.2 0,9.6 0,6.2 V5.8 C0,2.5 2.1,0 4.8,0 C7.5,0 9.6,2.5 9.6,5.8 Z"/><path transform="translate(33.58350515463918,0.8)" d="M0,3.2 V0 H11.2 C8.8,6.5 6.8,13.5 5.3,21.4"/></g>
<line x1="593" y1="600.5" x2="953" y2="600.5" stroke="#111" stroke-width="1.4" />
<path d="M952,600.5 C954,600.5 954.5,601.5 954.5,603.5" stroke="#111" stroke-width="1.3" fill="none" />
<line x1="593" y1="920.6" x2="953.4" y2="920.6" stroke="#111" stroke-width="1.4" />
<path d="M880,920 L936,920" stroke="#111" stroke-width="2.4" fill="none" />
<line x1="631.8" y1="640" x2="631.8" y2="987" stroke="#111" stroke-width="1.1" />
<line x1="953.4" y1="916" x2="953.4" y2="987" stroke="#111" stroke-width="1.1" />
<line x1="632" y1="986.2" x2="953.4" y2="986.2" stroke="#111" stroke-width="1.2" />
<path transform="translate(636,986.2) rotate(-90) scale(1.0)" d="M0,0 L0.7,1 L1.3,2.5 L2.2,9.5 L3.2,10.6 L3.6,17.5 L4.5,18.8 L4.7,24 L0,23.4 L-4.7,24 L-4.5,18.8 L-3.6,17.5 L-3.2,10.6 L-2.2,9.5 L-1.3,2.5 L-0.7,1 Z" fill="#111"/>
<path transform="translate(948,986.2) rotate(90) scale(1.0)" d="M0,0 L0.7,1 L1.3,2.5 L2.2,9.5 L3.2,10.6 L3.6,17.5 L4.5,18.8 L4.7,24 L0,23.4 L-4.7,24 L-4.5,18.8 L-3.6,17.5 L-3.2,10.6 L-2.2,9.5 L-1.3,2.5 L-0.7,1 Z" fill="#111"/>
<g transform="translate(772.3,956) scale(0.94)" fill="none" stroke="#111" stroke-width="1.6" stroke-linecap="round" stroke-linejoin="round"><path transform="translate(0.8,0.8)" d="M0,3.2 V0 H11.2 C8.8,6.5 6.8,13.5 5.3,21.4"/><path transform="translate(18.672340425531917,0.8)" d="M0,5.4 L4.6,0 V21.4"/><path transform="translate(28.565957446808515,0.8)" d="M0,4.8 A4.8,4.8 0 0 1 9.6,4.8 V16.6 A4.8,4.8 0 0 1 0,16.6 Z"/></g>
<line x1="652.6" y1="601" x2="652.6" y2="919.6" stroke="#26262e" stroke-width="2.2" />
<line x1="650" y1="620" x2="650" y2="915" stroke="#26262e" stroke-width="1.1" />
<path d="M650,906 L658,906 L656,912 L653,919.5 L650,919.5 Z" stroke="#26262e" stroke-width="0" fill="#26262e" />
<path d="M651,601 L656,601 L656,610 L660,613 L651,614 Z" stroke="#26262e" stroke-width="0" fill="#26262e" />
<line x1="662" y1="615" x2="662" y2="908.5" stroke="#26262e" stroke-width="1.6" />
<line x1="652" y1="615.5" x2="909" y2="615.5" stroke="#26262e" stroke-width="2.2" />
<line x1="662" y1="619.2" x2="893" y2="619.2" stroke="#26262e" stroke-width="1.2" />
<line x1="893.4" y1="615" x2="893.4" y2="908" stroke="#26262e" stroke-width="1.5" />
<line x1="910.6" y1="601" x2="910.6" y2="916" stroke="#26262e" stroke-width="2.0" />
<line x1="926.2" y1="601" x2="926.2" y2="916" stroke="#26262e" stroke-width="1.3" />
<line x1="935" y1="601" x2="935" y2="916" stroke="#667" stroke-width="1.1" />
<line x1="937.8" y1="604" x2="937.8" y2="916" stroke="#26262e" stroke-width="1.4" />
<line x1="952.2" y1="604" x2="952.2" y2="916" stroke="#26262e" stroke-width="1.4" />
<line x1="937.8" y1="604.6" x2="952.2" y2="604.6" stroke="#26262e" stroke-width="1.3" />
<line x1="935.4" y1="916" x2="953.6" y2="916" stroke="#26262e" stroke-width="1.3" />
<path d="M911,601 L920,601 L920,605 L917,609 L914,606 L911,612 Z M921,602 L924,602 L924,607 L921,607 Z" stroke="#26262e" stroke-width="0" fill="#26262e" />
<circle cx="904.6" cy="607.8" r="2.2" fill="none" stroke="#111" stroke-width="1.2"/>
<circle cx="905.4" cy="914" r="2.2" fill="none" stroke="#111" stroke-width="1.2"/>
<path d="M900,919 C905,916 910,914 914,916 L918,914 C922,914 924,916 926,918 L936,918 L936,921 L897,921 Z" stroke="#26262e" stroke-width="0" fill="#26262e" />
<path d="M632,918 L632,630 L649,630" stroke="#26262e" stroke-width="1.6" fill="none" />
<path d="M636,918 L636,636 L649,636" stroke="#26262e" stroke-width="1.3" fill="none" />
<line x1="638.2" y1="705" x2="638.2" y2="912" stroke="#26262e" stroke-width="0.9" />
<line x1="649" y1="628" x2="649" y2="918" stroke="#26262e" stroke-width="1.1" />
<path d="M634,793 L652,796.5 L652,805 L634,801.5 Z" stroke="#26262e" stroke-width="1.3" fill="#fff" />
<rect x="635.4" y="806" width="14.6" height="30" stroke="#26262e" stroke-width="1.4" fill="#fff" />
<line x1="641" y1="807" x2="641" y2="835" stroke="#26262e" stroke-width="1.0" />
<path d="M640,838 C640,846 645,849 650,849" stroke="#26262e" stroke-width="1.3" fill="none" />
<path d="M645,763 C641,765 641,778 645,780" stroke="#26262e" stroke-width="1.3" fill="none" />
<path d="M644,782 L649,778 L649,786 Z" stroke="#26262e" stroke-width="0" fill="#26262e" />
<path d="M672,622 C672,618.5 679.5,618.5 679.5,622 L679.5,636 C679.5,640 672,640 672,636 Z" stroke="#26262e" stroke-width="0" fill="#26262e" />
<path d="M674,627 L677.5,631 M677.5,627 L674,631" stroke="#26262e" stroke-width="1.0" fill="#fff" />
<line x1="662" y1="650" x2="856.5" y2="650" stroke="#26262e" stroke-width="1.8" />
<line x1="846.7" y1="650" x2="846.7" y2="895.7" stroke="#26262e" stroke-width="1.5" />
<line x1="856.5" y1="650" x2="856.5" y2="893.4" stroke="#26262e" stroke-width="1.5" />
<line x1="662" y1="895.7" x2="846.7" y2="895.7" stroke="#26262e" stroke-width="1.5" />
<line x1="662" y1="896.4" x2="893.4" y2="896.4" stroke="#26262e" stroke-width="1.0" />
<rect x="662" y="901.2" width="231.4" height="7" fill="#8a8aa8"/>
<line x1="662" y1="901.2" x2="893.4" y2="901.2" stroke="#26262e" stroke-width="1.2" />
<line x1="662" y1="908.4" x2="893.4" y2="908.4" stroke="#26262e" stroke-width="1.2" />
<line x1="678" y1="845.2" x2="815" y2="845.2" stroke="#26262e" stroke-width="1.5" />
<line x1="678" y1="847.8" x2="815" y2="847.8" stroke="#26262e" stroke-width="1.0" />
<path d="M706,690.5 C726,690.5 743.2,710 743.2,738 C743.2,762 728,779.2 706,779.2 C684,779.2 669.4,762 669.4,738 C669.4,710 686,690.5 706,690.5 Z" stroke="#26262e" stroke-width="2.2" fill="#fff" />
<path d="M686.5,669 L715,669 L721,674 L721,689 L686.5,689 Z" stroke="#26262e" stroke-width="1.8" fill="#fff" />
<circle cx="706" cy="681" r="2.6" fill="none" stroke="#111" stroke-width="1.4"/>
<path d="M712,677 L721,677" stroke="#26262e" stroke-width="1.2" fill="none" />
<circle cx="736" cy="682" r="9" fill="none" stroke="#111" stroke-width="2"/>
<path d="M731,677 C731,673 740,673 740,677 L740,688 L731,688 Z" stroke="#26262e" stroke-width="1.4" fill="#fff" />
<path d="M684,690 L688,695 M690,691 L686,698 M724,690 L728,697" stroke="#26262e" stroke-width="1.4" fill="none" />
<circle cx="674" cy="668.5" r="4" fill="none" stroke="#26262e" stroke-width="2.2"/>
<path d="M672.5,672 L672,700 M676,672 L676.5,702" stroke="#26262e" stroke-width="1.4" fill="none" />
<circle cx="690" cy="665" r="0.9" fill="#111"/><circle cx="731" cy="659" r="1" fill="#111"/>
<circle cx="722.8" cy="785.8" r="4.5" fill="#111"/>
<path d="M727,786 C729,784 732,785 732,788" stroke="#26262e" stroke-width="1.2" fill="none" />
<path d="M680,779 L686,792 L686,800 M690,783 L693,792" stroke="#26262e" stroke-width="1.4" fill="none" />
<path d="M681,793 L693,793 M686,792 L686,802" stroke="#26262e" stroke-width="1.4" fill="none" />
<path d="M679.6,811.6 L694,822.4 L694,793 M680,816 L692,825" stroke="#26262e" stroke-width="1.3" fill="none" />
<circle cx="736" cy="776" r="0.9" fill="#111"/>
<path d="M667,845 L667,772 C667,766 678.4,766 678.4,772 L678.4,850" stroke="#26262e" stroke-width="1.7" fill="none" />
<path d="M667,845 C667,852 670,857 678,857" stroke="#26262e" stroke-width="1.6" fill="none" />
<path d="M678.4,849 C700,849 735,851 750,858 C757,862 757,868 750,870 C735,874 700,878 676,883 C670,884 670,872 676,872 C700,869 725,866 738,862" stroke="#26262e" stroke-width="1.6" fill="none" />
<path d="M678,857 C700,857 725,860 738,862" stroke="#26262e" stroke-width="1.4" fill="none" />
<rect x="744.4" y="873" width="11.2" height="12" stroke="#26262e" stroke-width="1.4" fill="#fff" />
<path d="M762.8,858 L777.5,857 M762.8,858 C764,855 768,854 777.5,853" stroke="#26262e" stroke-width="1.2" fill="none" />
<rect x="777.5" y="849.2" width="13.5" height="18.8" stroke="#26262e" stroke-width="1.5" fill="#fff" />
<rect x="781" y="850" width="6" height="5" stroke="#26262e" stroke-width="0" fill="#26262e" />
<line x1="777.5" y1="860" x2="791" y2="860" stroke="#26262e" stroke-width="1.2" />
<path d="M769.2,877 C769,876 771,876 775,876 L787,876 L789,879 L787.2,883.7 L771,883.7 C769,883.7 769,880 769.2,877 Z" stroke="#26262e" stroke-width="0" fill="#26262e" />
<path d="M787,880 L800,868" stroke="#26262e" stroke-width="1.4" fill="none" />
<circle cx="806.7" cy="859" r="5" fill="#fff" stroke="#26262e" stroke-width="1.6"/>
<circle cx="806.7" cy="859" r="2.6" fill="none" stroke="#26262e" stroke-width="1.2"/>
<path d="M806.7,854 L815,847 L815,835 L820,828 M811,862 L829,862 L829,822 M811,855.5 L824,855.5 L824,826" stroke="#26262e" stroke-width="1.4" fill="none" />
<path d="M815,847 L815,815 M820,845 L820,815" stroke="#26262e" stroke-width="1.4" fill="none" />
<rect x="776" y="661" width="11.6" height="152" stroke="#26262e" stroke-width="1.5" fill="#fff" />
<rect x="787.6" y="663.3" width="58.8" height="147" stroke="#26262e" stroke-width="1.8" fill="#fff" />
<path d="M779,702 C780.5,692 784,684 787,677 L787,792 L781,792 C779,770 778.5,720 779,702 Z" stroke="#26262e" stroke-width="0" fill="#26262e" />
<path d="M785.8,700 v5 M785.8,720 v5 M785.8,745 v5 M785.8,770 v5 M785.8,785 v5 " stroke="#fff" stroke-width="1.0" fill="none" />
<rect x="757.5" y="717" width="21" height="39.3" stroke="#26262e" stroke-width="1.5" fill="#fff" />
<line x1="765.2" y1="718" x2="765.2" y2="755" stroke="#26262e" stroke-width="1.2" />
<path d="M770,717 L770,704 L777.8,704 L777.8,717" stroke="#26262e" stroke-width="1.3" fill="#fff" />
<path d="M772,704 L778,700 L786,713" stroke="#26262e" stroke-width="1.1" fill="none" />
<circle cx="782" cy="802" r="1.6" fill="none" stroke="#111" stroke-width="1"/>
<circle cx="782" cy="733" r="1.2" fill="#fff"/>
<path d="M805,810 L805,822 L811,822 L811,816 L818,816 L818,826 M830,810 L830,820 C830,826 842,826 842,820 L842,810" stroke="#26262e" stroke-width="1.4" fill="none" />
<path d="M806,811 h5 v4 h-5 Z M822,811 h4 v6 h-4 Z M835,811 h4 v5 h-4 Z M844,811 h2 v6 h-2 Z" stroke="#26262e" stroke-width="0" fill="#26262e" />
<path d="M806,650 L806,663 M846,650 L846,663" stroke="#26262e" stroke-width="1.3" fill="none" />
<path d="M813,663 C813,652 827,652 827,663" stroke="#26262e" stroke-width="2.0" fill="none" />
<path d="M818,663 C818,657 822,657 822,663" stroke="#26262e" stroke-width="1.2" fill="none" />
<path d="M832,653 L832,663 M836,652 L836,663 M842,653 L843,663" stroke="#26262e" stroke-width="1.5" fill="none" />
<path d="M808,653 C810,651 812,653 810,656 C808,658 810,660 812,660" stroke="#26262e" stroke-width="1.3" fill="none" />
<line x1="804" y1="661.5" x2="846" y2="661.5" stroke="#26262e" stroke-width="2.0" />
<rect x="790.8" y="620.4" width="26.7" height="27.3" stroke="#26262e" stroke-width="1.6" fill="#fff" />
<circle cx="802.5" cy="634" r="5.6" fill="none" stroke="#111" stroke-width="1.4"/>
<circle cx="802.5" cy="634" r="2.8" fill="none" stroke="#111" stroke-width="1.2"/>
<path d="M791,620.5 h4 v4 h-4 Z M813,643 h4 v4.5 h-4 Z M791,643 h3 v3 h-3 Z M813,621 h3 v3 h-3 Z" stroke="#26262e" stroke-width="0" fill="#26262e" />
<circle cx="811" cy="632" r="1.5" fill="#111"/>
<path d="M831.8,624 C831.8,618 837,618 837,624 L837,632 C837,638 831.8,638 831.8,632 Z" stroke="#26262e" stroke-width="0" fill="#26262e" />
<circle cx="868" cy="628" r="1.1" fill="#111"/><circle cx="868" cy="678" r="1.1" fill="#111"/>
<circle cx="851.3" cy="666" r="2.6" fill="#111"/><circle cx="886.7" cy="688" r="3" fill="#111"/>
<rect x="880.5" y="643.2" width="12.5" height="33.1" stroke="#26262e" stroke-width="1.5" fill="#fff" />
<path d="M881.5,646 l2,2 l-2,2 l2,2 l-2,2 l2,2 l-2,2 l2,2 l-2,2 l2,2 l-2,2 l2,2 l-2,2 l2,2" stroke="#26262e" stroke-width="1.5" fill="none" />
<path d="M891,632 l2,2 l-2,2 l2,2" stroke="#26262e" stroke-width="1.3" fill="none" />
<rect x="859" y="697.8" width="19" height="152" stroke="#26262e" stroke-width="1.4" fill="#fff" />
<circle cx="886.5" cy="747.8" r="2.5" fill="#111"/><circle cx="886.5" cy="772.8" r="2.5" fill="#111"/><circle cx="887" cy="833" r="2.4" fill="#111"/>
<circle cx="839.7" cy="841" r="2.2" fill="#111"/><circle cx="851" cy="847.7" r="2.3" fill="#111"/><circle cx="886.2" cy="832.7" r="2.3" fill="#111"/>
<path d="M832.2,870.2 L876,870.2 C878,867 881,866.5 884,866.5 L884,880.5 L832.2,880.5 Z" stroke="#26262e" stroke-width="0" fill="#fff" />
<path d="M832.2,870.2 L876,870.2 C878,867 881,866.5 884,866.5 M832.2,880.5 L878,880.5 L880,884" stroke="#26262e" stroke-width="1.5" fill="none" />
<path d="M870.4,866 C870.4,862.5 873,861 876,861 L893,861 M883,876 C883,872 881,871 878,871" stroke="#26262e" stroke-width="1.4" fill="none" />
<path d="M885,868 L891,868 L891,882 L886,882 Z" stroke="#26262e" stroke-width="0" fill="#26262e" />
<rect x="881" y="883" width="8" height="8" stroke="#26262e" stroke-width="1.3" fill="#fff" />
<circle cx="885" cy="887" r="1.1" fill="#111"/>
</svg></body></html>
